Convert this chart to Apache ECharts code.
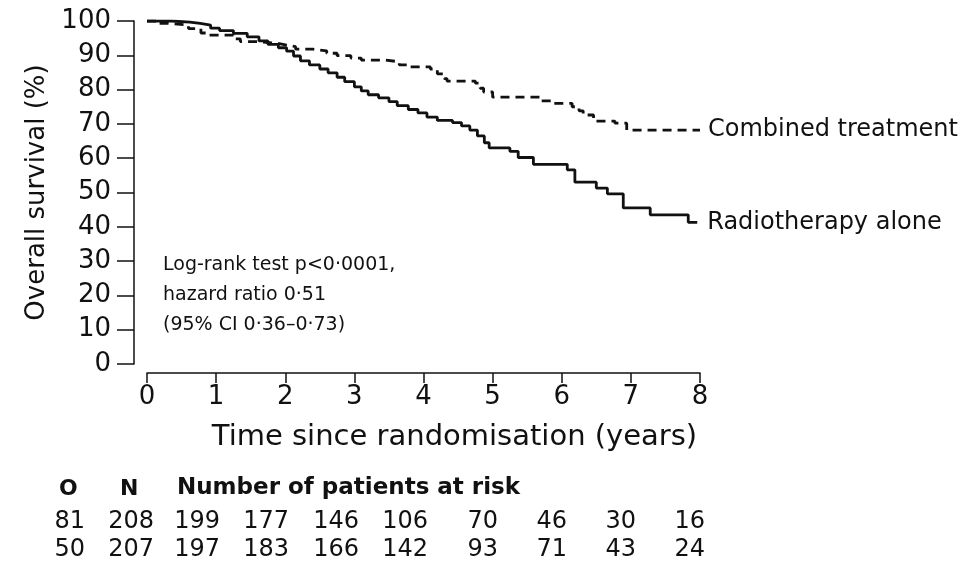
<!DOCTYPE html>
<html>
<head>
<meta charset="utf-8">
<script src="https://cdn.jsdelivr.net/npm/echarts@6/dist/echarts.min.js"></script>
<style>
  html, body { margin: 0; padding: 0; background: #fff; }
  #main { width: 978px; height: 567px; }
</style>
</head>
<body>
<div id="main"></div>
<script>
// Kaplan-Meier steps: [years, survival %]
const radioTimes = [0, 0.35, 0.62, 0.77, 0.92, 1.05, 1.25, 1.45, 1.62, 1.75, 1.9, 2.02, 2.12, 2.22, 2.35, 2.5, 2.62, 2.75, 2.86, 3.0, 3.1, 3.2, 3.35, 3.5, 3.62, 3.78, 3.92, 4.05, 4.2, 4.42, 4.55, 4.67, 4.78, 4.88, 4.95, 5.25, 5.37, 5.59, 6.08, 6.19, 6.5, 6.66, 6.89, 7.28, 7.83, 7.96];
const radioSurv  = [100, 99.7, 99.3, 98.8, 97.9, 97.2, 96.4, 95.4, 94.2, 93.2, 92.2, 91.2, 89.8, 88.4, 87.2, 86, 84.9, 83.6, 82.3, 80.8, 79.6, 78.5, 77.6, 76.5, 75.3, 74.2, 73.2, 72, 71, 70.4, 69.4, 68.2, 66.5, 64.5, 63, 62, 60.2, 58.2, 56.6, 53, 51.3, 49.6, 45.5, 43.5, 41.3, 41.3];

const combTimes = [0, 0.15, 0.3, 0.6, 0.78, 0.85, 1.25, 1.35, 1.59, 1.88, 2.02, 2.15, 2.4, 2.6, 2.75, 2.95, 3.1, 3.45, 3.65, 3.8, 4.1, 4.2, 4.3, 4.34, 4.75, 4.82, 4.87, 5.0, 5.69, 5.88, 6.15, 6.25, 6.31, 6.46, 6.77, 6.94, 8.0];
const combSurv  = [100, 99.3, 98.8, 97.8, 96.5, 95.9, 94.8, 94, 93.5, 93, 92.5, 91.8, 91.3, 90.6, 89.9, 89.2, 88.6, 88.1, 87.2, 86.6, 86, 84.6, 83.2, 82.5, 81.9, 80.4, 79.3, 77.8, 76.7, 76, 75, 73.8, 72.6, 70.8, 70.2, 68.2, 68.2];

const statLines = ['Log-rank test p<0\u00b70001,', 'hazard ratio 0\u00b751', '(95% CI 0\u00b736\u20130\u00b773)'];

// number at risk table
const riskHeader = ['O', 'N', 'Number of patients at risk'];
const riskRadio = [81, 208, 199, 177, 146, 106, 70, 46, 30, 16];
const riskComb  = [50, 207, 197, 183, 166, 142, 93, 71, 43, 24];
const riskColRight = [85, 154, 220, 289, 359, 428, 498, 567, 636, 705];

const pairs = (t, s) => t.map((v, i) => [v, s[i]]);

const font = 'DejaVu Sans';
const ink = '#111';

let myChart = echarts.init(document.getElementById('main'), null, { renderer: 'canvas' });

let graphics = [];
statLines.forEach((txt, i) => {
  graphics.push({
    type: 'text', left: 163, top: 256 + i * 30,
    style: { text: txt, font: '19px "' + font + '"', fill: ink }
  });
});
graphics.push({ type: 'text', left: 59, top: 478, style: { text: riskHeader[0], font: 'bold 22px "' + font + '"', fill: ink } });
graphics.push({ type: 'text', left: 120, top: 478, style: { text: riskHeader[1], font: 'bold 22px "' + font + '"', fill: ink } });
graphics.push({ type: 'text', left: 177, top: 477, style: { text: riskHeader[2], font: 'bold 23px "' + font + '"', fill: ink } });
[riskRadio, riskComb].forEach((row, r) => {
  row.forEach((n, i) => {
    graphics.push({
      type: 'text', x: riskColRight[i], y: 522 + r * 28,
      style: { text: String(n), font: '24px "' + font + '"', fill: ink, align: 'right', verticalAlign: 'middle' }
    });
  });
});

let option = {
  backgroundColor: '#fff',
  animation: false,
  grid: { left: 147, right: 278, top: 21, bottom: 203 },
  xAxis: {
    type: 'value', min: 0, max: 8, interval: 1,
    offset: 9,
    name: 'Time since randomisation (years)',
    nameLocation: 'middle', nameGap: 50,
    nameTextStyle: { fontFamily: font, fontSize: 29, color: ink, padding: [0, 0, 0, 62] },
    axisLine: { onZero: false, lineStyle: { color: ink, width: 1.5 } },
    axisTick: { length: 10, lineStyle: { color: ink, width: 1.5 } },
    axisLabel: { margin: 11, fontFamily: font, fontSize: 26, color: ink },
    splitLine: { show: false }
  },
  yAxis: {
    type: 'value', min: 0, max: 100, interval: 10,
    offset: 13,
    name: 'Overall survival (%)',
    nameLocation: 'middle', nameGap: 84,
    nameTextStyle: { fontFamily: font, fontSize: 26, color: ink },
    axisLine: { show: true, onZero: false, lineStyle: { color: ink, width: 1.5 } },
    axisTick: { show: true, length: 17, lineStyle: { color: ink, width: 1.5 } },
    axisLabel: { margin: 23, fontFamily: font, fontSize: 26, color: ink },
    splitLine: { show: false }
  },
  series: [{
    name: 'Combined treatment',
    type: 'line', step: 'end', showSymbol: false,
    data: pairs(combTimes, combSurv),
    lineStyle: { color: ink, width: 2.8, type: [9, 6] },
    endLabel: { show: true, formatter: '{a}', distance: 8, fontFamily: font, fontSize: 24, color: ink }
  }, {
    name: 'Radiotherapy alone',
    type: 'line', step: 'end', showSymbol: false,
    data: pairs(radioTimes, radioSurv),
    lineStyle: { color: ink, width: 2.8 },
    endLabel: { show: true, formatter: '{a}', distance: 10, fontFamily: font, fontSize: 24, color: ink }
  }],
  graphic: graphics
};

myChart.setOption(option);
</script>
</body>
</html>
